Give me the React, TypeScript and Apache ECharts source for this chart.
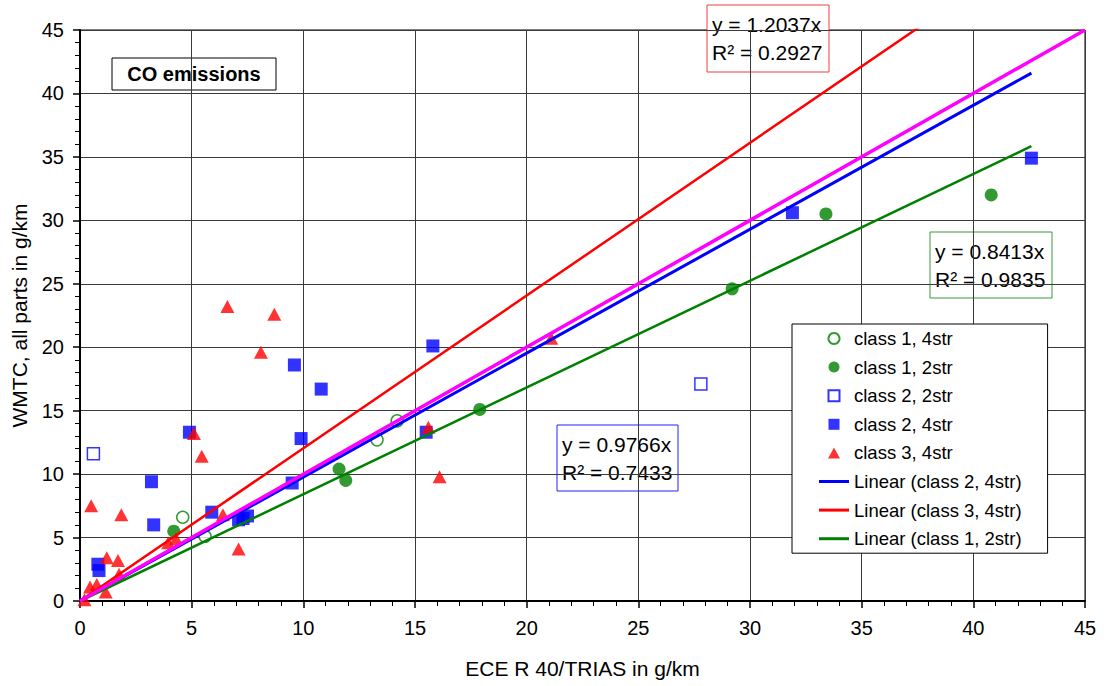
import React, { useEffect, useRef } from "react";
import * as echarts from "echarts";

const xTicksMax = 45;
const yTicksMax = 45;
const tickInterval = 5;

const class1_4str: number[][] = [[4.6, 6.6], [5.6, 5.1], [13.3, 12.7], [14.2, 14.2]];
const class1_2str: number[][] = [[4.2, 5.5], [11.6, 10.4], [11.9, 9.5], [17.9, 15.1], [29.2, 24.6], [33.4, 30.5], [40.8, 32.0]];
const class2_2str: number[][] = [[0.6, 11.6], [27.8, 17.1]];
const class2_4str: number[][] = [
  [0.8, 2.9], [0.85, 2.4], [3.2, 9.4], [3.3, 6.0], [4.9, 13.3], [5.9, 7.0], [7.1, 6.4], [7.3, 6.5], [7.5, 6.7],
  [9.5, 9.3], [9.6, 18.6], [9.9, 12.8], [10.8, 16.7], [15.5, 13.3], [15.8, 20.1], [31.9, 30.6], [42.6, 34.9],
];
const class3_4str: number[][] = [
  [0.2, 0.1], [0.45, 1.1], [0.75, 1.3], [1.15, 0.7], [1.2, 3.4], [1.7, 3.2], [1.75, 2.1], [0.5, 7.5], [1.85, 6.8],
  [3.95, 4.6], [4.3, 4.9], [5.1, 13.2], [5.45, 11.4], [6.4, 6.8], [7.1, 4.1], [6.6, 23.2], [8.1, 19.6], [8.7, 22.6],
  [15.6, 13.7], [16.1, 9.8], [21.1, 20.7],
];

const slopeClass2 = 0.9766;
const slopeClass3 = 1.2037;
const slopeClass1 = 0.8413;
const slopeOneToOne = 1;
const trendXEnd = 42.6;

const eqClass3 = ["y = 1.2037x", "R² = 0.2927"];
const eqClass1 = ["y = 0.8413x", "R² = 0.9835"];
const eqClass2 = ["y = 0.9766x", "R² = 0.7433"];
const chartTitle = "CO emissions";

const FONT = "'Liberation Sans', Arial, sans-serif";

const ICON_CIRCLE = "path://M5,0 A5,5 0 1,1 4.999,0 Z";
const ICON_SQUARE = "path://M0,0 L10,0 L10,10 L0,10 Z";
const ICON_TRIANGLE = "path://M6,0 L12,11 L0,11 Z";
const ICON_LINE = "path://M0,0 L30,0 L30,3 L0,3 Z";

function trend(slope: number, xEnd: number): number[][] {
  return [[0, 0], [xEnd, slope * xEnd]];
}

function eqBox(x: number, y: number, w: number, h: number, border: string, lines: string[]) {
  return {
    type: "group",
    x,
    y,
    children: [
      { type: "rect", shape: { x: 0, y: 0, width: w, height: h }, style: { fill: "#fff", stroke: border, lineWidth: 1 } },
      {
        type: "text",
        x: 5,
        y: h / 2,
        style: {
          text: lines.join("\n"),
          font: `21px ${FONT}`,
          lineHeight: 28,
          fill: "#000",
          verticalAlign: "middle",
          align: "left",
        },
      },
    ],
  };
}

export default function App() {
  const ref = useRef<HTMLDivElement>(null);
  useEffect(() => {
    if (!ref.current) return;
    const chart = echarts.init(ref.current, null, { renderer: "svg" });
    const axisCommon = {
      type: "value" as const,
      min: 0,
      nameLocation: "middle" as const,
      interval: tickInterval,
      axisLine: { show: true, lineStyle: { color: "#000", width: 2 } },
      axisTick: { show: true, length: 7, lineStyle: { color: "#000", width: 1.5 } },
      minorTick: { show: true, splitNumber: 5, length: 5, lineStyle: { color: "#000", width: 1 } },
      splitLine: { show: true, lineStyle: { color: "#3a3a3a", width: 1 } },
      axisLabel: { color: "#000", fontSize: 20, fontFamily: FONT },
      nameTextStyle: { color: "#000", fontSize: 21, fontFamily: FONT },
    };
    const option: any = {
      animation: false,
      backgroundColor: "#fff",
      grid: { left: 80, right: 21, top: 30, bottom: 85, show: true, borderColor: "#000", borderWidth: 1, backgroundColor: "#fff" },
      xAxis: {
        ...axisCommon,
        max: xTicksMax,
        name: "ECE R 40/TRIAS in g/km",
        nameGap: 57,
        axisLabel: { ...axisCommon.axisLabel, margin: 17 },
      },
      yAxis: {
        ...axisCommon,
        max: yTicksMax,
        name: "WMTC, all parts in g/km",
        nameGap: 50,
        axisLabel: { ...axisCommon.axisLabel, margin: 16 },
      },
      legend: {
        orient: "vertical",
        left: 792,
        top: 324,
        padding: [5, 26, 5, 27],
        itemWidth: 30,
        itemHeight: 11,
        itemGap: 9.6,
        borderColor: "#000",
        borderWidth: 1,
        backgroundColor: "#fff",
        symbolKeepAspect: true,
        textStyle: { color: "#000", fontSize: 18.5, fontFamily: FONT },
        data: [
          { name: "class 1, 4str", icon: ICON_CIRCLE },
          { name: "class 1, 2str", icon: ICON_CIRCLE },
          { name: "class 2, 2str", icon: ICON_SQUARE },
          { name: "class 2, 4str", icon: ICON_SQUARE },
          { name: "class 3, 4str", icon: ICON_TRIANGLE },
          { name: "Linear (class 2, 4str)", icon: ICON_LINE },
          { name: "Linear (class 3, 4str)", icon: ICON_LINE },
          { name: "Linear (class 1, 2str)", icon: ICON_LINE },
        ],
      },
      series: [
        {
          name: "class 1, 4str",
          type: "scatter",
          symbol: "circle",
          symbolSize: 12,
          itemStyle: { color: "#fff", borderColor: "#008000", borderWidth: 1.5 },
          data: class1_4str,
          z: 2,
        },
        {
          name: "class 1, 2str",
          type: "scatter",
          symbol: "circle",
          symbolSize: 13,
          itemStyle: { color: "#008000" },
          data: class1_2str,
          z: 2,
        },
        {
          name: "class 2, 2str",
          type: "scatter",
          symbol: "rect",
          symbolSize: 12,
          itemStyle: { color: "#fff", borderColor: "#0000ff", borderWidth: 1.5 },
          data: class2_2str,
          z: 2,
        },
        {
          name: "class 2, 4str",
          type: "scatter",
          symbol: "rect",
          symbolSize: 13,
          itemStyle: { color: "#0000ff" },
          data: class2_4str,
          z: 2,
        },
        {
          name: "class 3, 4str",
          type: "scatter",
          symbol: "triangle",
          symbolSize: [14, 13],
          itemStyle: { color: "#ff0000" },
          data: class3_4str,
          z: 2,
        },
        {
          name: "Linear (class 2, 4str)",
          type: "line",
          symbol: "none",
          lineStyle: { color: "#0000ff", width: 3 },
          itemStyle: { color: "#0000ff" },
          data: trend(slopeClass2, trendXEnd),
          z: 3,
        },
        {
          name: "Linear (class 3, 4str)",
          type: "line",
          symbol: "none",
          lineStyle: { color: "#ff0000", width: 2.5 },
          itemStyle: { color: "#ff0000" },
          data: trend(slopeClass3, trendXEnd),
          clip: true,
          z: 3,
        },
        {
          name: "Linear (class 1, 2str)",
          type: "line",
          symbol: "none",
          lineStyle: { color: "#008000", width: 2.5 },
          itemStyle: { color: "#008000" },
          data: trend(slopeClass1, trendXEnd),
          z: 3,
        },
        {
          name: "1:1",
          type: "line",
          symbol: "none",
          lineStyle: { color: "#ff00ff", width: 3.5 },
          itemStyle: { color: "#ff00ff" },
          data: trend(slopeOneToOne, xTicksMax),
          z: 4,
        },
      ],
      graphic: [
        {
          type: "group",
          x: 112,
          y: 58,
          children: [
            { type: "rect", shape: { x: 0, y: 0, width: 164, height: 32 }, style: { fill: "#fff", stroke: "#000", lineWidth: 1 } },
            {
              type: "text",
              x: 82,
              y: 16,
              style: { text: chartTitle, font: `bold 20px ${FONT}`, fill: "#000", align: "center", verticalAlign: "middle" },
            },
          ],
        },
        eqBox(707, 5, 122, 67, "#f04040", eqClass3),
        eqBox(930, 232, 122, 66, "#3a9a3a", eqClass1),
        eqBox(557, 425, 121, 66, "#2020ff", eqClass2),
      ],
    };
    chart.setOption(option);
    return () => chart.dispose();
  }, []);
  return <div ref={ref} style={{ position: "fixed", left: 0, top: 0, width: 1106, height: 686 }} />;
}
